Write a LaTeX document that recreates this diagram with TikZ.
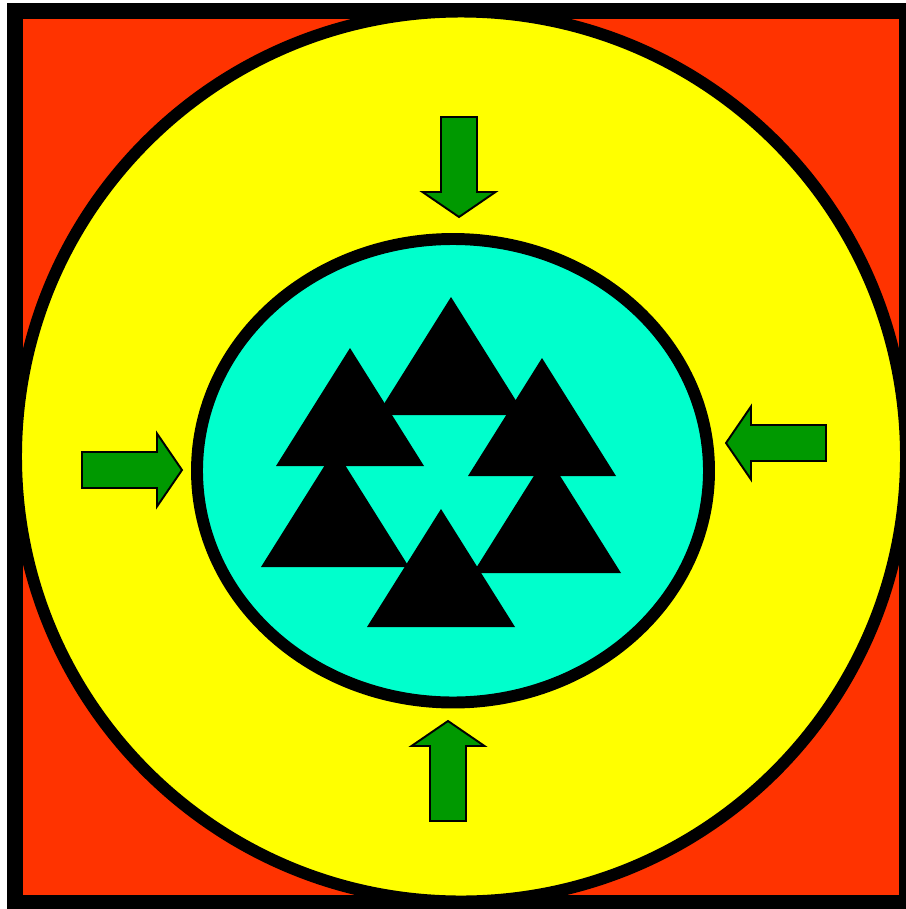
\documentclass[tikz,border=0pt]{standalone}
\usepackage{tikz}
\usetikzlibrary{positioning}
\definecolor{bgRed}{RGB}{255,51,0}
\definecolor{ringYellow}{RGB}{255,255,0}
\definecolor{coreAqua}{RGB}{0,255,204}
\definecolor{arrowGreen}{RGB}{0,153,0}

\begin{document}
\begin{tikzpicture}[
    x=0.01cm, y=-0.01cm,
    frameBox/.style={fill=bgRed, draw=black, line width=4.55pt},
    outerRing/.style={fill=ringYellow, draw=black, line width=3.4pt},
    innerCore/.style={fill=coreAqua, draw=black, line width=3.4pt},
    peakFill/.style={fill=black},
    arrowFill/.style={fill=arrowGreen, draw=black, line width=0.55pt, line join=miter},
    pics/pushArrow/.style={code={
        \filldraw[arrowFill] (0,0) -- (-25,-36.5) -- (-25,-18) -- (-100,-18)
            -- (-100,18) -- (-25,18) -- (-25,36.5) -- cycle;
    }}
]
    \useasboundingbox (0,0) rectangle (905,909);

    % Background Zones
    \draw[frameBox] (15,11) rectangle (907,903);
    \draw[outerRing] (461,456.5) circle (445);
    \draw[innerCore] (453,470.75) ellipse (256 and 231.75);

    % Inward Arrows
    \pic[rotate=-90] at (459,217) {pushArrow};
    \pic[rotate=0]   at (182,470) {pushArrow};
    \pic[rotate=180] at (726,443) {pushArrow};
    \pic[rotate=90]  at (448,721) {pushArrow};

    % Triangles
    \foreach \px/\py in {451/297, 350/348, 542/358, 335/449, 547/455, 441/509}
        \fill[peakFill] (\px,\py) -- ++(-74,118) -- ++(148,0) -- cycle;
\end{tikzpicture}
\end{document}
